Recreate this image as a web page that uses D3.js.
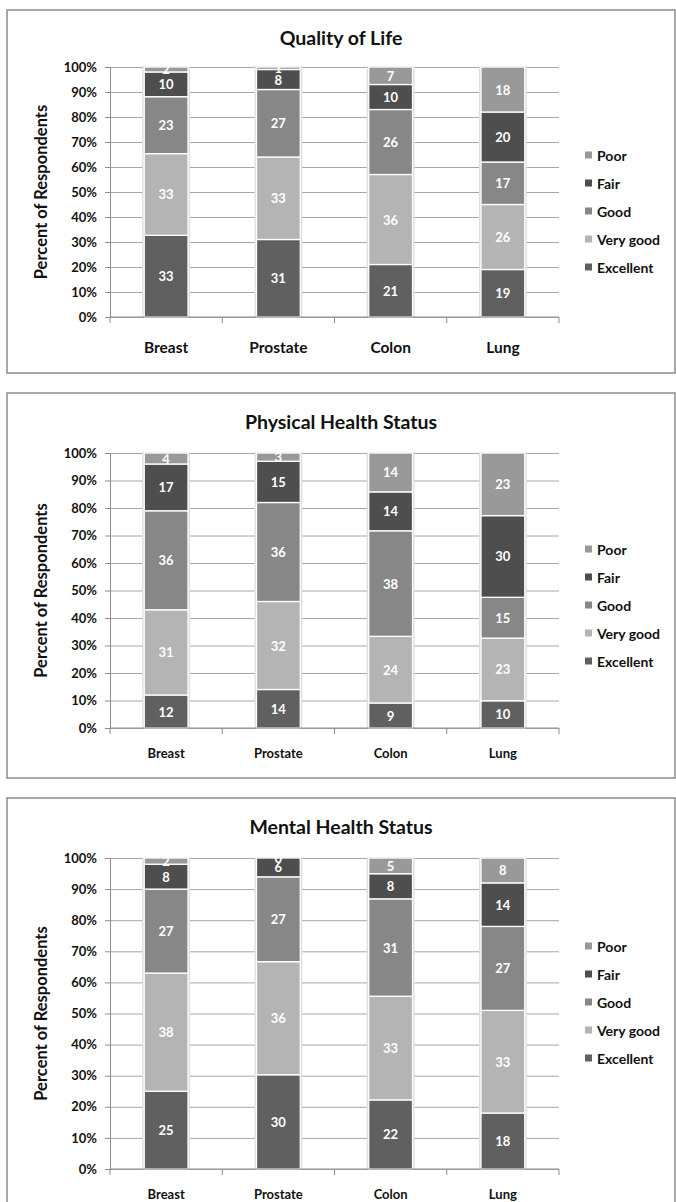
<!DOCTYPE html>
<html>
<head>
<meta charset="utf-8">
<script src="https://cdn.jsdelivr.net/npm/d3@7"></script>
<style>
  html, body { margin: 0; padding: 0; background: #fff; }
  svg { display: block; font-family: Lato, "Open Sans", sans-serif; font-weight: bold; }
</style>
</head>
<body>
<script>
// ---------- DATA ----------
const categories = ["Breast", "Prostate", "Colon", "Lung"];
const levels = ["Excellent", "Very good", "Good", "Fair", "Poor"];
const legendOrder = ["Poor", "Fair", "Good", "Very good", "Excellent"];
const yTicks = [0, 0.1, 0.2, 0.3, 0.4, 0.5, 0.6, 0.7, 0.8, 0.9, 1.0];

// Quality of Life
const qolExcellent = [33, 31, 21, 19];
const qolVeryGood  = [33, 33, 36, 26];
const qolGood      = [23, 27, 26, 17];
const qolFair      = [10, 8, 10, 20];
const qolPoor      = [2, 1, 7, 18];

// Physical Health Status
const phsExcellent = [12, 14, 9, 10];
const phsVeryGood  = [31, 32, 24, 23];
const phsGood      = [36, 36, 38, 15];
const phsFair      = [17, 15, 14, 30];
const phsPoor      = [4, 3, 14, 23];

// Mental Health Status
const mhsExcellent = [25, 30, 22, 18];
const mhsVeryGood  = [38, 36, 33, 33];
const mhsGood      = [27, 27, 31, 27];
const mhsFair      = [8, 6, 8, 14];
const mhsPoor      = [2, 0, 5, 8];

// ---------- STYLE / LAYOUT ----------
const colors = {
  "Excellent": "#606060",
  "Very good": "#b4b4b4",
  "Good": "#878787",
  "Fair": "#4e4e4e",
  "Poor": "#999999"
};

const panels = [
  { title: "Quality of Life", series: [qolExcellent, qolVeryGood, qolGood, qolFair, qolPoor],
    box: [7, 10, 675, 373], titleY: 37, top: 67, bottom: 317, catY: 347, catSize: 15.5, legendTop: 155 },
  { title: "Physical Health Status", series: [phsExcellent, phsVeryGood, phsGood, phsFair, phsPoor],
    box: [7, 393, 675, 778], titleY: 421, top: 453, bottom: 728, catY: 753, catSize: 13, legendTop: 549 },
  { title: "Mental Health Status", series: [mhsExcellent, mhsVeryGood, mhsGood, mhsFair, mhsPoor],
    box: [7, 798, 675, 1222], titleY: 826, top: 858, bottom: 1169, catY: 1194, catSize: 13, legendTop: 946 }
];

const W = 676, H = 1202;
const plotLeft = 110, plotRight = 559;

const svg = d3.select("body").append("svg").attr("width", W).attr("height", H);

panels.forEach(p => {
  const g = svg.append("g");
  const [bx0, by0, bx1, by1] = p.box;

  g.append("rect")
    .attr("x", bx0).attr("y", by0).attr("width", bx1 - bx0).attr("height", by1 - by0)
    .attr("fill", "#fff").attr("stroke", "#8c8c8c").attr("stroke-width", 1.5);

  g.append("text")
    .attr("x", (bx0 + bx1) / 2).attr("y", p.titleY)
    .attr("text-anchor", "middle").attr("dominant-baseline", "central")
    .attr("font-size", 19.5).attr("fill", "#111")
    .text(p.title);

  const x = d3.scaleBand().domain(categories).range([plotLeft, plotRight]).padding(0);
  const barW = x.bandwidth() * 0.39;
  const y = d3.scaleLinear().domain([0, 1]).range([p.bottom, p.top]);

  // gridlines
  const grid = g.append("g").attr("transform", `translate(${plotLeft},0)`)
    .call(d3.axisLeft(y).tickValues(yTicks).tickSize(-(plotRight - plotLeft)).tickFormat(""));
  grid.select(".domain").remove();
  grid.selectAll("line").attr("stroke", "#a6a6a6").attr("stroke-width", 1);

  // y axis with tick marks and labels
  const ya = g.append("g").attr("transform", `translate(${plotLeft},0)`)
    .call(d3.axisLeft(y).tickValues(yTicks).tickSize(5).tickPadding(8).tickFormat(d3.format(".0%")));
  ya.select(".domain").attr("stroke", "#8c8c8c");
  ya.selectAll("line").attr("stroke", "#8c8c8c");
  ya.selectAll("text").attr("font-size", 13).attr("font-family", "Lato, sans-serif")
    .attr("font-weight", "bold").attr("fill", "#111");

  // y axis title
  g.append("text")
    .attr("transform", `translate(41,${(p.top + p.bottom) / 2}) rotate(-90)`)
    .attr("text-anchor", "middle").attr("dominant-baseline", "central")
    .attr("font-size", 16.5).attr("fill", "#111")
    .text("Percent of Respondents");

  // stacked data
  const rows = categories.map((c, i) => {
    const r = { cat: c };
    levels.forEach((l, k) => { r[l] = p.series[k][i]; });
    return r;
  });
  const stacked = d3.stack().keys(levels).offset(d3.stackOffsetExpand)(rows);

  // bar shadows
  g.append("g").selectAll("rect").data(rows).join("rect")
    .attr("x", d => x(d.cat) + (x.bandwidth() - barW) / 2 - 2)
    .attr("y", y(1) - 1)
    .attr("width", barW + 4)
    .attr("height", y(0) - y(1) + 1)
    .attr("fill", "#dedede");

  const layer = g.append("g").selectAll("g").data(stacked).join("g")
    .attr("fill", d => colors[d.key]);
  layer.selectAll("rect").data(d => d.map(v => ({ v, key: d.key }))).join("rect")
    .attr("x", d => x(d.v.data.cat) + (x.bandwidth() - barW) / 2)
    .attr("y", d => y(d.v[1]))
    .attr("width", barW)
    .attr("height", d => Math.max(0, y(d.v[0]) - y(d.v[1])))
    .attr("stroke", "#fff").attr("stroke-width", 1.3);

  // value labels
  const lab = g.append("g").selectAll("g").data(stacked).join("g");
  lab.selectAll("text").data(d => d.map(v => ({ v, key: d.key }))).join("text")
    .attr("x", d => x(d.v.data.cat) + x.bandwidth() / 2)
    .attr("y", d => y((d.v[0] + d.v[1]) / 2))
    .attr("text-anchor", "middle").attr("dominant-baseline", "central")
    .attr("font-size", 13).attr("fill", "#fff")
    .text(d => d.v.data[d.key]);

  // x axis
  g.append("line").attr("x1", plotLeft).attr("x2", plotRight)
    .attr("y1", p.bottom).attr("y2", p.bottom).attr("stroke", "#8c8c8c");
  const bounds = categories.map(c => x(c)).concat([plotRight]);
  g.append("g").selectAll("line").data(bounds).join("line")
    .attr("x1", d => d).attr("x2", d => d)
    .attr("y1", p.bottom).attr("y2", p.bottom + 6)
    .attr("stroke", "#8c8c8c");
  g.append("g").selectAll("text").data(categories).join("text")
    .attr("x", d => x(d) + x.bandwidth() / 2)
    .attr("y", p.catY)
    .attr("text-anchor", "middle").attr("dominant-baseline", "central")
    .attr("font-size", p.catSize).attr("fill", "#111")
    .text(d => d);

  // legend
  const lg = g.append("g").selectAll("g").data(legendOrder).join("g")
    .attr("transform", (d, i) => `translate(585,${p.legendTop + i * 28})`);
  lg.append("rect").attr("x", 0).attr("y", -3.5).attr("width", 7).attr("height", 7)
    .attr("fill", d => colors[d]);
  lg.append("text").attr("x", 12).attr("y", 0).attr("dominant-baseline", "central")
    .attr("font-size", 14).attr("fill", "#111").text(d => d);
});
</script>
</body>
</html>
